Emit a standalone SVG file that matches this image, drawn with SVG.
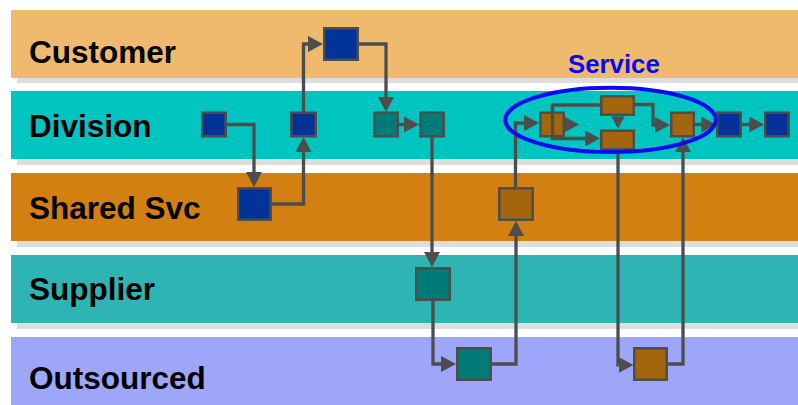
<svg xmlns="http://www.w3.org/2000/svg" width="798" height="405" viewBox="0 0 798 405">
<defs>
<marker id="ah" viewBox="0 0 15 16" refX="0" refY="8" markerWidth="15" markerHeight="16" markerUnits="userSpaceOnUse" orient="auto">
<path d="M0,0 L15,8 L0,16 z" fill="#4D4D4D"/>
</marker>
</defs>
<style>
.shadow{fill:#DDDDDD}
.lbl{font-family:"Liberation Sans",Arial,sans-serif;font-weight:bold;font-size:31.5px;fill:#000}
.n{stroke:#4D4D4D;stroke-width:2.5}
.blue{fill:#003399}
.teal{fill:#007B77}
.brown{fill:#A3650D}
.c{fill:none;stroke:#4D4D4D;stroke-width:3.3;marker-end:url(#ah)}
.ah{fill:#4D4D4D}
</style>
<rect width="798" height="405" fill="#FFFFFF"/>
<g id="lanes">
<rect class="shadow" x="17" y="15" width="781" height="68"/>
<rect class="shadow" x="17" y="97" width="781" height="68"/>
<rect class="shadow" x="17" y="179" width="781" height="68"/>
<rect class="shadow" x="17" y="261" width="781" height="68"/>
<rect x="11" y="10" width="787" height="68" fill="#F0BA6E"/>
<rect x="11" y="91" width="787" height="68" fill="#00C4C0"/>
<rect x="11" y="173" width="787" height="68" fill="#D28012"/>
<rect x="11" y="255" width="787" height="68" fill="#2EB5B3"/>
<rect x="11" y="337" width="787" height="68" fill="#9DA6F8"/>
<text class="lbl" x="29" y="62.5">Customer</text>
<text class="lbl" x="29" y="137">Division</text>
<text class="lbl" x="29" y="219">Shared Svc</text>
<text class="lbl" x="29" y="300">Supplier</text>
<text class="lbl" x="29" y="389">Outsourced</text>
</g>
<g id="connectors">
<path class="c" d="M227,124.5 H254 V172"/>
<path class="c" d="M272,204 H303.5 V152"/>
<path class="c" d="M303.5,112 V44 H308"/>
<path class="c" d="M359,44 H386 V97"/>
<path class="c" d="M399,124.5 H404"/>
<path class="c" d="M432,137 V252"/>
<path class="c" d="M433,301 V364 H441"/>
<path class="c" d="M492,364 H516 V236"/>
<path class="c" d="M515.5,187 V123 H524"/>
<polygon class="ah" points="565,117 579,124.5 565,132"/>
<path class="c" d="M600,105 H552.5 V138.5 H585"/>
<polygon class="ah" points="611.5,116.5 624.5,116.5 618,129"/>
<path class="c" d="M635,104.5 H653 V125 H655"/>
<path class="c" d="M695,124.5 H701"/>
<path class="c" d="M742,124.5 H749"/>
<path class="c" d="M618,149.5 V365 H618.5"/>
<path class="c" d="M668,364 H683 V152"/>
</g>
<g id="D1"><rect class="n blue" x="202.25" y="112.75" width="23.5" height="23.5"/></g>
<g id="D2"><rect class="n blue" x="291.25" y="112.75" width="24.5" height="23.5"/></g>
<g id="C1"><rect class="n blue" x="324.25" y="28.25" width="33.5" height="31.5"/></g>
<g id="S1"><rect class="n blue" x="238.25" y="188.25" width="32.5" height="31.5"/></g>
<g id="TA"><rect class="n teal" x="374.25" y="112.75" width="23.5" height="23.5"/></g>
<g id="TB"><rect class="n teal" x="420.25" y="112.75" width="23.5" height="23.5"/></g>
<g id="SP1"><rect class="n teal" x="416.25" y="268.25" width="33.5" height="31.5"/></g>
<g id="O1"><rect class="n teal" x="457.25" y="348.25" width="33.5" height="31.5"/></g>
<g id="S2"><rect class="n brown" x="499.25" y="188.25" width="33.5" height="31.5"/></g>
<g id="B1"><rect class="n brown" x="540.25" y="112.75" width="23.5" height="23.5"/><line x1="552.5" y1="105" x2="552.5" y2="140" stroke="#4D4D4D" stroke-width="3.3"/></g>
<g id="BT"><rect class="n brown" x="601.25" y="96.25" width="32.5" height="18.5"/></g>
<g id="BB"><rect class="n brown" x="601.25" y="130.75" width="32.5" height="18.5"/></g>
<g id="BR"><rect class="n brown" x="671.25" y="112.75" width="22.5" height="23.5"/></g>
<g id="D3"><rect class="n blue" x="717.25" y="112.75" width="23.5" height="23.5"/></g>
<g id="D4"><rect class="n blue" x="765.25" y="112.75" width="23.5" height="23.5"/></g>
<g id="O2"><rect class="n brown" x="634.25" y="348.25" width="32.5" height="31.5"/></g>
<g id="service">
<ellipse cx="610.5" cy="119.9" rx="105.2" ry="32.2" fill="none" stroke="#0A0AF0" stroke-width="4"/>
<text x="568" y="73.3" font-family="'Liberation Sans',Arial,sans-serif" font-weight="bold" font-size="25.8" fill="#0A0AF0">Service</text>
</g>
</svg>
